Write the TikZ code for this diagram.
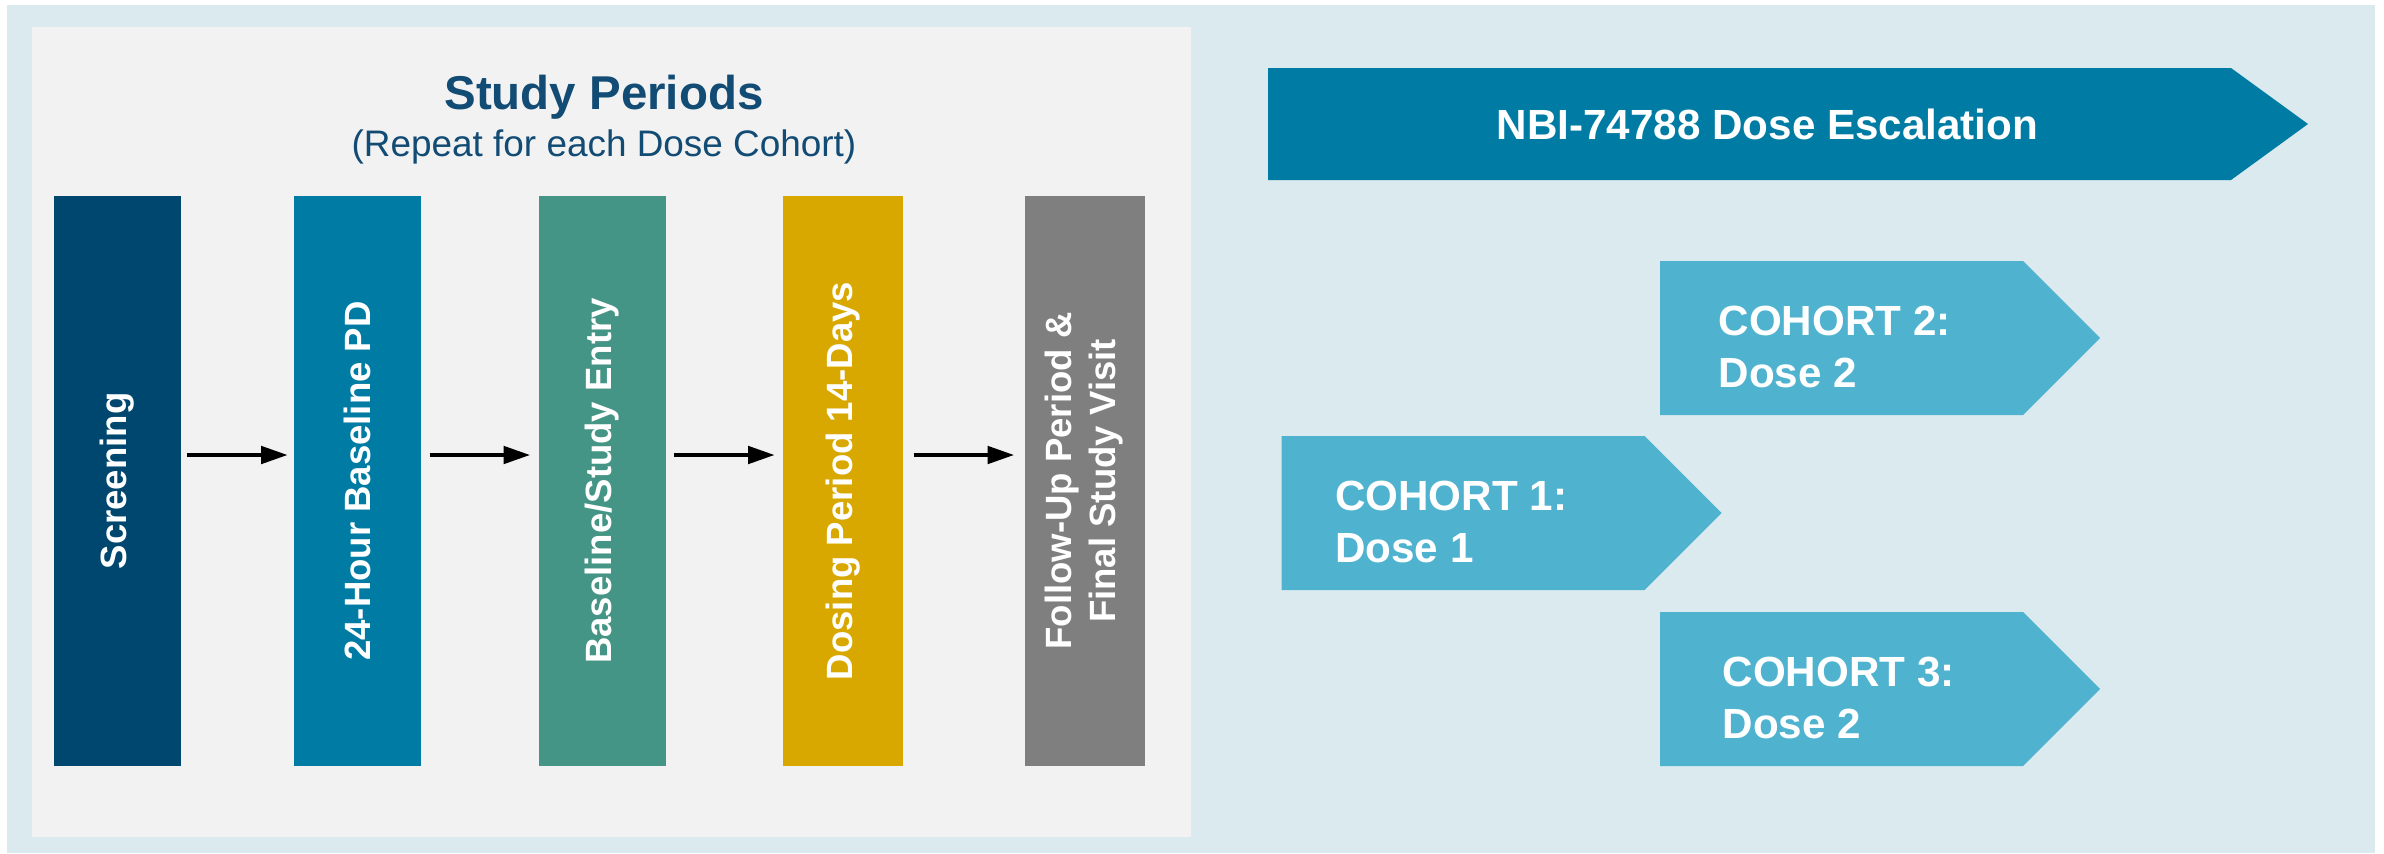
\documentclass[tikz,border=0pt]{standalone}
\usepackage{fontspec}
\setmainfont{Liberation Sans}
\usetikzlibrary{positioning, arrows.meta}
\definecolor{panelbg}{HTML}{DBEAEE}
\definecolor{periodbg}{HTML}{F2F2F2}
\definecolor{navy}{HTML}{124B74}
\definecolor{screencol}{HTML}{00476F}
\definecolor{baselinecol}{HTML}{007CA4}
\definecolor{entrycol}{HTML}{449585}
\definecolor{dosingcol}{HTML}{D8A800}
\definecolor{followcol}{HTML}{7F7F7F}
\definecolor{cohortcol}{HTML}{4FB3D0}

\begin{document}
\begin{tikzpicture}[
  period/.style={minimum width=1.27cm, minimum height=5.70cm, inner sep=0pt, outer sep=0pt, text=white, font=\fontsize{10.4}{12.5}\selectfont\bfseries},
  flow/.style={-{Triangle[length=2.7mm, width=1.7mm]}, line width=1.4pt},
  cohort/.style={minimum width=3.63cm, minimum height=1.54cm, inner sep=0pt, outer sep=0pt},
  cohorttxt/.style={text=white, align=left, inner sep=0pt, font=\fontsize{12}{15}\selectfont\bfseries},
]
\useasboundingbox (0,0) rectangle (23.84,8.53);
\fill[panelbg] (0.07,0) rectangle (23.75,8.48);
\fill[periodbg] (0.32,0.16) rectangle (11.91,8.26);

% study periods
\node[text=navy, font=\fontsize{13.5}{16}\selectfont\bfseries, anchor=base] (title) at (6.04,7.44) {Study Periods};
\node[text=navy, font=\fontsize{10.5}{12}\selectfont, anchor=base] (subtitle) at (6.04,6.97) {(Repeat for each Dose Cohort)};

\node[period, fill=screencol] (screen) at (1.175,3.72) {\rotatebox{90}{Screening}};
\node[period, fill=baselinecol, right=1.13cm of screen] (pd) {\rotatebox{90}{24-Hour Baseline PD}};
\node[period, fill=entrycol, right=1.18cm of pd] (entry) {\rotatebox{90}{Baseline/Study Entry}};
\node[period, fill=dosingcol, minimum width=1.20cm, right=1.17cm of entry] (dosing) {\rotatebox{90}{Dosing Period 14-Days}};
\node[period, fill=followcol, minimum width=1.20cm, right=1.22cm of dosing] (follow) {\rotatebox{90}{\begin{tabular}{@{}c@{}}Follow-Up Period \&\\Final Study Visit\end{tabular}}};

\foreach \a/\b/\s in {screen/pd/0.06, pd/entry/0.085, entry/dosing/0.08, dosing/follow/0.105}
  \draw[flow, shorten <=\s cm, shorten >=\s cm] ([yshift=0.26cm]\a.east) -- ([yshift=0.26cm]\b.west);

% dose escalation
\node[cohort, minimum width=9.63cm, minimum height=1.12cm] (escalation) at (17.495,7.29) {};
\fill[baselinecol] (escalation.north west) -- (escalation.north east) -- ([xshift=0.77cm]escalation.east)
  -- (escalation.south east) -- (escalation.south west) -- cycle;
\node[text=white, font=\fontsize{12}{14}\selectfont\bfseries] (esctext) at ([xshift=0.18cm]escalation.center) {NBI-74788 Dose Escalation};

\node[cohort] (cohortA) at (14.63,3.40) {};
\node[cohort] (cohortB) at (18.415,5.15) {};
\node[cohort] (cohortC) at (18.415,1.64) {};
\foreach \c in {cohortA, cohortB, cohortC}
  \fill[cohortcol] (\c.north west) -- (\c.north east) -- ([xshift=0.77cm]\c.east)
    -- (\c.south east) -- (\c.south west) -- cycle;

\node[cohorttxt, right=0.53cm of cohortA.west, yshift=-0.09cm] (doseA) {COHORT 1:\\Dose 1};
\node[cohorttxt, right=0.58cm of cohortB.west, yshift=-0.09cm] (doseB) {COHORT 2:\\Dose 2};
\node[cohorttxt, right=0.62cm of cohortC.west, yshift=-0.09cm] (doseC) {COHORT 3:\\Dose 2};
\end{tikzpicture}
\end{document}
